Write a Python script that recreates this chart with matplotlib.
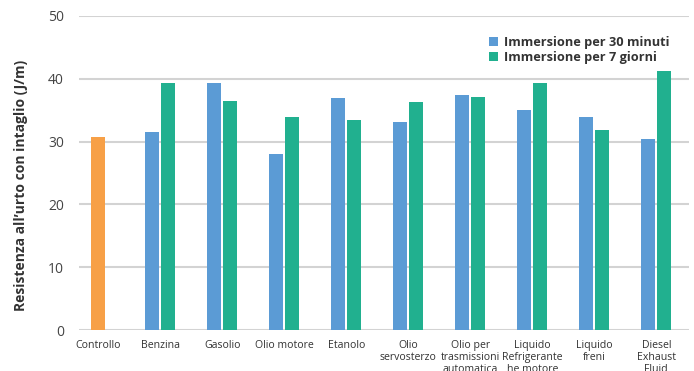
import numpy as np
import matplotlib.pyplot as plt

plt.rcParams['font.family'] = ['Open Sans', 'DejaVu Sans']

# Categorie e valori (J/m)
categorie = ['Controllo', 'Benzina', 'Gasolio', 'Olio motore', 'Etanolo',
             'Olio\nservosterzo', 'Olio per\ntrasmissioni\nautomatica',
             'Liquido\nRefrigerante\nhe motore', 'Liquido\nfreni',
             'Diesel\nExhaust\nFluid']
controllo = [30.8]
imm_30min = [31.6, 39.3, 28.1, 36.9, 33.1, 37.4, 35.0, 33.9, 30.4]
imm_7gg = [39.3, 36.4, 34.0, 33.4, 36.3, 37.1, 39.3, 31.9, 41.2]

col_ctrl = '#F7A047'
col_30 = '#5B9BD5'
col_7 = '#21B08F'

fig = plt.figure(figsize=(6.94, 3.71), dpi=100)
ax = fig.add_axes([0.114, 0.110, 0.879, 0.847])

x = np.arange(len(categorie))
w = 0.225
off = 0.13

ax.bar(x[:1], controllo, width=w, color=col_ctrl, zorder=3)
ax.bar(x[1:] - off, imm_30min, width=w, color=col_30, zorder=3,
       label='Immersione per 30 minuti')
ax.bar(x[1:] + off, imm_7gg, width=w, color=col_7, zorder=3,
       label='Immersione per 7 giorni')

ax.set_xlim(-0.31, 9.53)
ax.set_ylim(0, 50)
ax.set_yticks(range(0, 51, 10))
ax.set_xticks(x)
ax.set_xticklabels(categorie, fontsize=7.6, color='#333333', va='top',
                   linespacing=1.1)
ax.tick_params(axis='both', length=0)
ax.tick_params(axis='x', pad=7)
ax.tick_params(axis='y', labelsize=10, labelcolor='#444444', pad=11)

ax.grid(axis='y', color='#d3d3d3', linewidth=1.5, zorder=0)
for s in ax.spines.values():
    s.set_visible(False)

ax.set_ylabel('Resistenza all’urto con intaglio (J/m)', fontsize=10,
              fontweight='bold', color='#333333')
ax.yaxis.set_label_coords(-0.083, 0.462)

leg = ax.legend(loc='upper right', bbox_to_anchor=(0.967, 0.937), frameon=False,
                prop={'size': 9.2, 'weight': 'bold'}, handlelength=0.75,
                handleheight=0.75, handletextpad=0.4, labelspacing=0.15,
                borderaxespad=0, borderpad=0)
for t in leg.get_texts():
    t.set_color('#333333')

fig.savefig('out.png', dpi=100)
